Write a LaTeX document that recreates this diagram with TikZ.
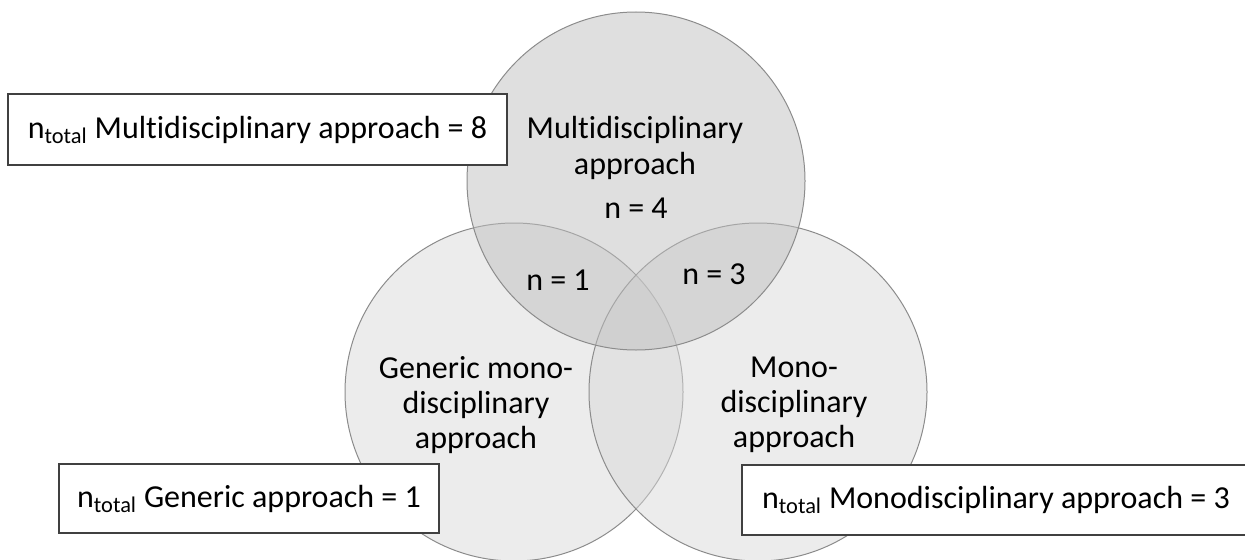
\documentclass[tikz,border=0pt]{standalone}
\usepackage{fontspec}
\setmainfont{Carlito}[RawFeature=-liga]
\usetikzlibrary{positioning}

\definecolor{multifill}{RGB}{191,191,191}
\definecolor{monofill}{RGB}{217,217,217}
\definecolor{setline}{RGB}{140,140,140}

\tikzset{
  vennset/.style={circle, draw=setline, line width=0.75pt, inner sep=0pt,
    minimum size=253.5pt, fill opacity=0.5},
  venntext/.style={align=center, inner sep=0pt,
    font=\fontsize{24}{26.3}\selectfont},
  totalbox/.style={draw=black!75, line width=1pt, fill=white, inner sep=0pt,
    font=\fontsize{24}{26.3}\selectfont},
}

\begin{document}
\begin{tikzpicture}[x=0.75pt, y=-0.75pt]
  \useasboundingbox (0,0) rectangle (1245,560);

  \node [vennset, fill=monofill] (generic) at (514,392) {};
  \node [vennset, fill=monofill] (mono) at (758,392) {};
  \node [vennset, fill=multifill] (multi) at (636,181) {};

  \node [venntext] (multitext) at (635,148) {Multidisciplinary\\approach};
  \node [venntext, anchor=base] (multin) at (636,218) {n = 4};
  \node [venntext, anchor=base] (genmultin) at (558,290) {n = 1};
  \node [venntext, anchor=base] (monomultin) at (714,284) {n = 3};
  \node [venntext] (generictext) at (476,405) {Generic mono-\\disciplinary\\approach};
  \node [venntext] (monotext) at (794,405) {Mono-\\disciplinary\\approach};

  \node [totalbox, minimum width=374.25pt, minimum height=53.25pt] (multitotal)
    at (257.5,129.5) {n\textsubscript{total} Multidisciplinary approach = 8};
  \node [totalbox, minimum width=285pt, minimum height=51.75pt] (generictotal)
    at (249,498.5) {n\textsubscript{total} Generic approach = 1};
  \node [totalbox, minimum width=381pt, minimum height=52.5pt] (monototal)
    at (996,500) {n\textsubscript{total} Monodisciplinary approach = 3};
\end{tikzpicture}
\end{document}
